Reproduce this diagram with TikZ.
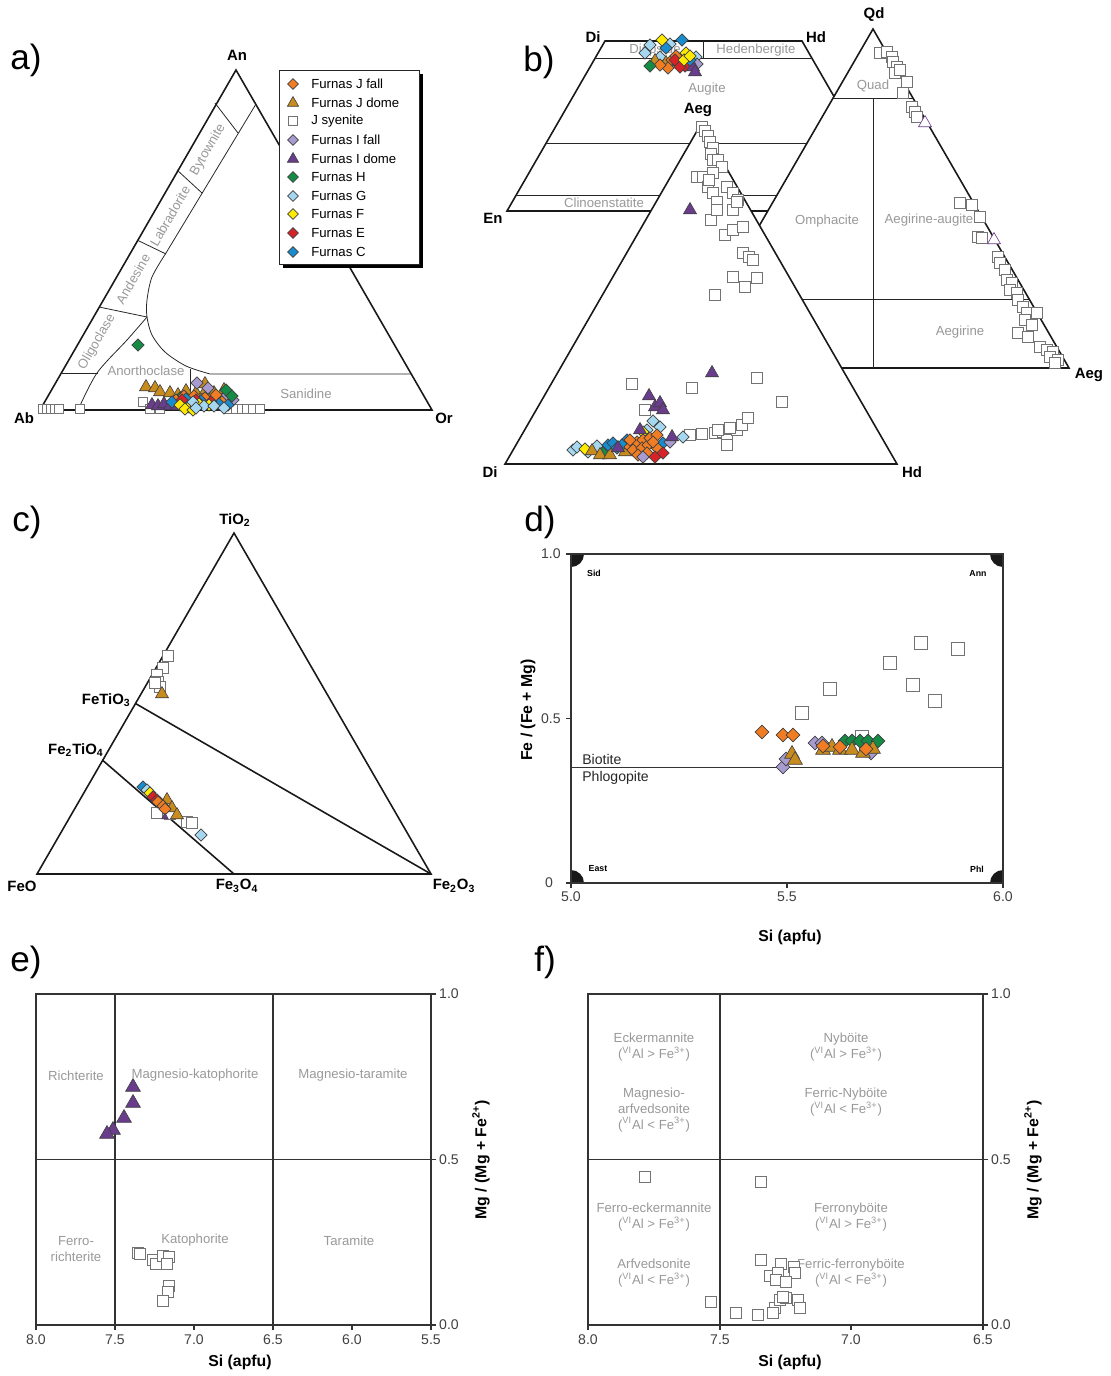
\documentclass[tikz,border=0pt]{standalone}
\usepackage{fontspec}
\setmainfont{Liberation Sans}
\usetikzlibrary{shapes.geometric}

\definecolor{jfallc}{RGB}{240,125,35}
\definecolor{jdomec}{RGB}{200,140,30}
\definecolor{ifallc}{RGB}{168,155,208}
\definecolor{idomec}{RGB}{105,60,140}
\definecolor{hc}{RGB}{20,140,70}
\definecolor{gc}{RGB}{165,215,240}
\definecolor{fc}{RGB}{255,235,0}
\definecolor{ec}{RGB}{215,35,40}
\definecolor{cc}{RGB}{25,140,205}

\begin{document}
\begin{tikzpicture}[x=0.02cm,y=-0.02cm]
\tikzstyle{every node}+=[inner sep=0pt]
\tikzstyle{outl}=[line width=0.9pt, black!90]
\tikzstyle{thinl}=[line width=0.45pt, black!85]
\tikzstyle{axl}=[line width=0.6pt, black!80]
\tikzstyle{vtx}=[font=\bfseries\fontsize{8.5}{10}\selectfont]
\tikzstyle{zone}=[text=black!40, font=\fontsize{7.5}{9}\selectfont, align=center]
\tikzstyle{lgd}=[anchor=west, font=\fontsize{7.5}{9}\selectfont]
\tikzstyle{tk}=[text=black!75, font=\fontsize{8}{9.6}\selectfont]
\tikzstyle{axt}=[font=\bfseries\fontsize{9}{11}\selectfont]
\tikzstyle{corner}=[font=\bfseries\fontsize{5}{6}\selectfont]
\tikzstyle{plab}=[font=\fontsize{20}{24}\selectfont]
\tikzstyle{mk}=[draw=black!75, line width=0.35pt]
\tikzstyle{dmd}=[mk, diamond, minimum size=0.25cm]
\tikzstyle{trg}=[mk, regular polygon, regular polygon sides=3, minimum size=0.3cm]
\tikzstyle{sqr}=[draw=black!55, fill=white, line width=0.5pt, rectangle, minimum size=0.22cm]
\tikzstyle{mJfall}=[dmd, fill=jfallc]
\tikzstyle{mJdome}=[trg, fill=jdomec]
\tikzstyle{mJsy}=[sqr]
\tikzstyle{mIfall}=[dmd, fill=ifallc]
\tikzstyle{mIdome}=[trg, fill=idomec]
\tikzstyle{mH}=[dmd, fill=hc]
\tikzstyle{mG}=[dmd, fill=gc]
\tikzstyle{mF}=[dmd, fill=fc]
\tikzstyle{mE}=[dmd, fill=ec]
\tikzstyle{mC}=[dmd, fill=cc]
\useasboundingbox (0,0) rectangle (1110,1376);

% panel letters
\node[plab] (la) at (26,60) {a)};
\node[plab] (lb) at (539,62) {b)};
\node[plab] (lc) at (27,522) {c)};
\node[plab] (ld) at (540,522) {d)};
\node[plab] (le) at (26,962) {e)};
\node[plab] (lf) at (545,962) {f)};

%% ---------- a) feldspar ----------
\coordinate (Ab) at (40,410);
\coordinate (An) at (236,70);
\coordinate (Or) at (432,410);
\draw[outl] (Ab) -- (An) -- (Or) -- cycle;
\draw[thinl] (256,104) -- (166,253);
\draw[thinl] plot[smooth] coordinates {(166,253) (152,277) (147,300) (147,317) (152,335) (165,352) (186,366) (210,374)} -- (412,374);
\draw[thinl] plot[smooth] coordinates {(147,317) (127,340) (97,373) (78,410)};
\draw[thinl] (190,369) -- (190,410);
\draw[thinl] (215,103) -- (238,133);
\draw[thinl] (177,170) -- (202,193);
\draw[thinl] (137,240) -- (166,254);
\draw[thinl] (99,307) -- (147,317);
\draw[thinl] (61,373) -- (98,373);
\node[vtx] at (237,55) {An};
\node[vtx] at (24,418) {Ab};
\node[vtx] at (444,418) {Or};
\node[zone, rotate=60] at (208,150) {Bytownite};
\node[zone, rotate=60] at (170,216) {Labradorite};
\node[zone, rotate=60] at (133,279) {Andesine};
\node[zone, rotate=60] at (97,342) {Oligoclase};
\node[zone] at (146,371) {Anorthoclase};
\node[zone] at (306,394) {Sanidine};
% data a
\foreach \p in {(43,409),(47,409),(51,409),(55,409),(59,409),(80,409),(143,402),(150,409),(160,409),(228,409),(236,409),(242,409),(247,409),(253,409),(260,409)}
  \node[mJsy, minimum size=0.18cm] at \p {};
\foreach \p in {(146,387),(155,388),(160,392),(170,393),(178,395),(186,391),(196,393),(206,390),(214,393),(224,390),(205,384)}
  \node[mJdome] at \p {};
\foreach \p in {(152,405),(158,406),(164,404),(170,406),(176,406)}
  \node[mIdome] at \p {};
\foreach \p in {(197,383),(233,400),(227,395),(208,388)}
  \node[mIfall] at \p {};
\foreach \p in {(138,345),(226,390),(232,396),(216,398),(180,398)}
  \node[mH] at \p {};
\foreach \p in {(176,400),(184,396),(194,396),(205,398),(216,395),(190,403),(222,402)}
  \node[mJfall] at \p {};
\foreach \p in {(172,402),(186,399),(201,401),(219,404),(228,405)}
  \node[mC] at \p {};
\foreach \p in {(182,400),(196,400),(211,402)}
  \node[mE] at \p {};
\foreach \p in {(180,405),(189,407),(199,404),(209,405),(185,409),(193,410)}
  \node[mF] at \p {};
\foreach \p in {(193,402),(204,406),(196,408),(214,406),(224,408)}
  \node[mG] at \p {};
% legend
\fill[black] (283,74) rectangle (423,268);
\draw[thinl, fill=white] (279,70) rectangle (419,264);
\node[mJfall, minimum size=0.22cm] at (293,84) {};
\node[lgd] at (311,84) {Furnas J fall};
\node[mJdome, minimum size=0.26cm] at (293,103) {};
\node[lgd] at (311,103) {Furnas J dome};
\node[mJsy, minimum size=0.19cm] at (293,121) {};
\node[lgd] at (311,121) {J syenite};
\node[mIfall, minimum size=0.22cm] at (293,140) {};
\node[lgd] at (311,140) {Furnas I fall};
\node[mIdome, minimum size=0.26cm] at (293,159) {};
\node[lgd] at (311,159) {Furnas I dome};
\node[mH, minimum size=0.22cm] at (293,177) {};
\node[lgd] at (311,177) {Furnas H};
\node[mG, minimum size=0.22cm] at (293,196) {};
\node[lgd] at (311,196) {Furnas G};
\node[mF, minimum size=0.22cm] at (293,214) {};
\node[lgd] at (311,214) {Furnas F};
\node[mE, minimum size=0.22cm] at (293,233) {};
\node[lgd] at (311,233) {Furnas E};
\node[mC, minimum size=0.22cm] at (293,252) {};
\node[lgd] at (311,252) {Furnas C};

%% ---------- b) pyroxene ----------
\coordinate (qDi) at (605,41);
\coordinate (qHd) at (802,41);
\coordinate (qEn) at (507,211);
\coordinate (qFs) at (900,211);
\draw[outl, fill=white] (qEn) -- (qDi) -- (qHd) -- (qFs) -- cycle;
\draw[thinl] (595,58) -- (812,58);
\draw[thinl] (703,41) -- (703,58);
\draw[thinl] (546,143) -- (861,143);
\draw[thinl] (516,195) -- (891,195);
\node[vtx] at (593,37) {Di};
\node[vtx] at (816,37) {Hd};
\node[vtx] at (493,218) {En};
\node[zone] at (655,50) {Diopside};
\node[zone] at (756,50) {Hedenbergite};
\node[zone] at (707,89) {Augite};
\node[zone] at (604,203) {Clinoenstatite};
\foreach \p in {(650,45),(645,53),(660,57),(696,57),(670,44)} \node[mG] at \p {};
\foreach \p in {(655,61),(666,63),(688,64)} \node[mJdome] at \p {};
\foreach \p in {(672,60),(678,64),(668,68),(660,65),(682,58),(676,56)} \node[mJfall] at \p {};
\foreach \p in {(650,66)} \node[mH] at \p {};
\foreach \p in {(675,60),(685,66),(680,67)} \node[mE] at \p {};
\foreach \p in {(697,64)} \node[mIfall] at \p {};
\foreach \p in {(693,67),(695,72)} \node[mIdome] at \p {};
\foreach \p in {(682,40),(666,48),(690,60)} \node[mC] at \p {};
\foreach \p in {(662,40),(686,53),(684,60),(690,56)} \node[mF] at \p {};
% Qd triangle
\coordinate (Qd) at (873,29);
\coordinate (Jd) at (677,368);
\coordinate (qAeg) at (1069,368);
\draw[outl, fill=white] (Jd) -- (Qd) -- (qAeg) -- cycle;
\draw[thinl] (833,98) -- (913,98);
\draw[thinl] (873,98) -- (873,368);
\draw[thinl] (717,299) -- (1029,299);
\node[vtx] at (874,15) {Qd};
\node[vtx] at (1089,375) {Aeg};
\node[zone] at (873,86) {Quad};
\node[zone] at (827,221) {Omphacite};
\node[zone] at (929,220) {Aegirine-augite};
\node[zone] at (960,332) {Aegirine};
\foreach \p in {(880,53),(887,52),(892,57),(893,62),(897,67),(895,73),(900,70),(907,82),(903,93),(912,107),(915,112),(917,117),(960,203),(972,205),(980,217),(978,237),(982,238),(998,257),(1000,263),(1005,270),(1007,280),(1012,283),(1010,290),(1017,293),(1018,300),(1023,307),(1027,313),(1037,313),(1025,320),(1032,325),(1018,333),(1028,337),(1040,347),(1047,350),(1053,352),(1050,357),(1058,360),(1055,363)}
  \node[mJsy] at \p {};
\foreach \p in {(925,123),(994,240)} \node[trg, fill=white, draw=idomec] at \p {};
% Di-Hd-Aeg triangle
\coordinate (Di) at (505,464);
\coordinate (Aeg) at (701,124);
\coordinate (Hd) at (897,464);
\draw[outl, fill=white] (Di) -- (Aeg) -- (Hd) -- cycle;
\node[vtx] at (698,110) {Aeg};
\node[vtx] at (490,472) {Di};
\node[vtx] at (912,472) {Hd};
\foreach \p in {(702,127),(705,131),(708,136),(710,142),(713,148),(711,154),(713,160),(718,160),(722,167),(697,177),(703,177),(713,173),(727,187),(733,193),(738,200),(708,187),(713,193),(717,202),(733,210),(709,180),(711,220),(717,210),(737,202),(725,235),(733,230),(743,227),(743,253),(749,257),(753,260),(733,277),(757,278),(745,287),(715,295),(632,384),(692,388),(757,378),(782,402),(645,410),(690,435),(702,434),(715,433),(723,432),(727,440),(737,430),(742,425),(748,418),(727,445),(718,430),(730,428)}
  \node[mJsy] at \p {};
\foreach \p in {(573,450),(577,447),(597,446),(653,421),(683,437),(660,427),(647,430),(588,452)} \node[mG] at \p {};
\foreach \p in {(585,449),(643,432)} \node[mF] at \p {};
\foreach \p in {(603,453)} \node[mH] at \p {};
\foreach \p in {(592,451),(600,455),(610,455),(625,452)} \node[mJdome] at \p {};
\foreach \p in {(608,445),(613,443),(627,440),(622,445),(663,443),(617,448)} \node[mC] at \p {};
\foreach \p in {(630,447),(637,442),(643,440),(633,450),(642,448),(648,445),(650,438),(657,435),(657,448),(647,453),(638,455),(630,440),(653,442)} \node[mJfall] at \p {};
\foreach \p in {(655,457),(663,453)} \node[mE] at \p {};
\foreach \p in {(643,457),(670,442)} \node[mIfall] at \p {};
\foreach \p in {(649,396),(655,407),(660,403),(663,410),(640,430),(618,448),(672,437),(712,373),(690,210)} \node[mIdome] at \p {};

%% ---------- c) Fe-Ti oxides ----------
\coordinate (FeO) at (37,874);
\coordinate (TiO) at (234,533);
\coordinate (Hem) at (431,874);
\coordinate (Ilm) at (135.5,703.5);
\coordinate (Usp) at (102.7,760.3);
\coordinate (Mag) at (234,874);
\draw[outl] (FeO) -- (TiO) -- (Hem) -- cycle;
\draw[outl] (Ilm) -- (Hem);
\draw[outl] (Usp) -- (Mag);
\node[vtx] at (235,520) {TiO\textsubscript{2}};
\node[vtx, anchor=east] at (131,700) {FeTiO\textsubscript{3}};
\node[vtx, anchor=east] at (104,750) {Fe\textsubscript{2}TiO\textsubscript{4}};
\node[vtx] at (22,886) {FeO};
\node[vtx] at (237,886) {Fe\textsubscript{3}O\textsubscript{4}};
\node[vtx] at (454,886) {Fe\textsubscript{2}O\textsubscript{3}};
\foreach \p in {(168,656),(163,668),(157,675),(158,682),(160,687),(155,683),(157,813),(187,822),(192,823),(170,814)}
  \node[mJsy] at \p {};
\foreach \p in {(162,694),(167,800),(172,808),(177,815)} \node[mJdome] at \p {};
\foreach \p in {(143,787)} \node[mC] at \p {};
\foreach \p in {(147,790),(201,835)} \node[mG] at \p {};
\foreach \p in {(150,793)} \node[mF] at \p {};
\foreach \p in {(153,797),(157,800)} \node[mE] at \p {};
\foreach \p in {(160,803),(158,802),(163,806),(165,809)} \node[mJfall] at \p {};
\foreach \p in {(165,817)} \node[mIdome, minimum size=0.15cm] at \p {};

%% ---------- d) biotite ----------
\begin{scope}
\clip (571,554) rectangle (1003,883);
\fill[black!90] (571,554) circle[radius=0.26cm];
\fill[black!90] (1003,554) circle[radius=0.26cm];
\fill[black!90] (571,883) circle[radius=0.26cm];
\fill[black!90] (1003,883) circle[radius=0.26cm];
\end{scope}
\draw[axl] (571,554) rectangle (1003,883);
\draw[axl] (571,767.8) -- (1003,767.8);
\foreach \yy in {554,718.5,883} \draw[axl] (566,\yy) -- (571,\yy);
\foreach \xx in {571,787,1003} \draw[axl] (\xx,883) -- (\xx,888);
\node[tk, anchor=east] at (561,554) {1.0};
\node[tk, anchor=east] at (561,718.5) {0.5};
\node[tk] at (549,883) {0};
\node[tk] at (571,897) {5.0};
\node[tk] at (787,897) {5.5};
\node[tk] at (1003,897) {6.0};
\node[axt] at (790,937) {Si (apfu)};
\node[axt, rotate=90] at (528,710) {Fe / (Fe + Mg)};
\node[corner] at (594,573) {Sid};
\node[corner] at (978,573) {Ann};
\node[corner] at (598,869) {East};
\node[corner] at (977,869) {Phl};
\node[tk, anchor=west, text=black!85] at (582,759) {Biotite};
\node[tk, anchor=west, text=black!85] at (582,778) {Phlogopite};
\foreach \p in {(921,643),(958,649),(890,663),(830,689),(913,685),(935,701),(802,713),(862,737)}
  \node[mJsy, minimum size=0.27cm] at \p {};
\foreach \p in {(845,741),(852,741),(860,741),(868,741),(878,741)} \node[mH, minimum size=0.28cm] at \p {};
\foreach \p in {(815,743),(822,743),(783,767),(786,759),(871,753)} \node[mIfall, minimum size=0.28cm] at \p {};
\foreach \p in {(792,754),(795,760),(823,750),(832,747),(840,750),(852,750),(863,753),(873,749)} \node[mJdome, minimum size=0.34cm] at \p {};
\foreach \p in {(762,732),(783,735),(793,735),(823,746),(840,747),(866,749)} \node[mJfall, minimum size=0.28cm] at \p {};

%% ---------- e) amphibole ----------
\draw[axl] (36,994) rectangle (431,1325);
\draw[axl] (115,994) -- (115,1325);
\draw[axl] (273,994) -- (273,1325);
\draw[axl] (36,1159.5) -- (431,1159.5);
\foreach \xx/\v in {36/8.0,115/7.5,194/7.0,273/6.5,352/6.0,431/5.5} {
  \draw[axl] (\xx,1325) -- (\xx,1330);
  \node[tk] at (\xx,1340) {\v};
}
\foreach \yy/\v in {994/1.0,1159.5/0.5,1325/0.0} {
  \draw[axl] (431,\yy) -- (436,\yy);
  \node[tk] at (449,\yy) {\v};
}
\node[axt] at (240,1362) {Si (apfu)};
\node[axt, rotate=90] at (481,1160) {Mg / (Mg + Fe\textsuperscript{2+})};
\node[zone] at (76,1076) {Richterite};
\node[zone] at (195,1075) {Magnesio-katophorite};
\node[zone] at (353,1075) {Magnesio-taramite};
\node[zone] at (76,1249) {Ferro-\\richterite};
\node[zone] at (195,1240) {Katophorite};
\node[zone] at (349,1241) {Taramite};
\foreach \p in {(138,1253),(140,1254),(153,1260),(156,1264),(163,1256),(169,1257),(167,1264),(169,1286),(168,1292),(163,1301)}
  \node[mJsy] at \p {};
\foreach \p in {(133,1087),(133,1103),(124,1118),(113,1130),(107,1134)} \node[mIdome, minimum size=0.34cm] at \p {};

%% ---------- f) amphibole ----------
\draw[axl] (588,994) rectangle (983,1325);
\draw[axl] (720,994) -- (720,1325);
\draw[axl] (588,1159.5) -- (983,1159.5);
\foreach \xx/\v in {588/8.0,720/7.5,851/7.0,983/6.5} {
  \draw[axl] (\xx,1325) -- (\xx,1330);
  \node[tk] at (\xx,1340) {\v};
}
\foreach \yy/\v in {994/1.0,1159.5/0.5,1325/0.0} {
  \draw[axl] (983,\yy) -- (988,\yy);
  \node[tk] at (1001,\yy) {\v};
}
\node[axt] at (790,1362) {Si (apfu)};
\node[axt, rotate=90] at (1033,1160) {Mg / (Mg + Fe\textsuperscript{2+})};
\node[zone] at (654,1047) {Eckermannite\\(\textsuperscript{VI}Al > Fe\textsuperscript{3+})};
\node[zone] at (654,1110) {Magnesio-\\arfvedsonite\\(\textsuperscript{VI}Al < Fe\textsuperscript{3+})};
\node[zone] at (846,1047) {Nyböite\\(\textsuperscript{VI}Al > Fe\textsuperscript{3+})};
\node[zone] at (846,1102) {Ferric-Nyböite\\(\textsuperscript{VI}Al < Fe\textsuperscript{3+})};
\node[zone] at (654,1217) {Ferro-eckermannite\\(\textsuperscript{VI}Al > Fe\textsuperscript{3+})};
\node[zone] at (851,1217) {Ferronyböite\\(\textsuperscript{VI}Al > Fe\textsuperscript{3+})};
\node[zone] at (654,1273) {Arfvedsonite\\(\textsuperscript{VI}Al < Fe\textsuperscript{3+})};
\node[zone] at (851,1273) {Ferric-ferronyböite\\(\textsuperscript{VI}Al < Fe\textsuperscript{3+})};
\foreach \p in {(645,1177),(761,1182),(761,1260),(781,1264),(794,1267),(795,1273),(770,1276),(778,1273),(776,1280),(786,1282),(711,1302),(736,1313),(758,1315),(775,1308),(780,1300),(786,1298),(798,1300),(800,1308),(773,1313),(783,1297)}
  \node[mJsy] at \p {};
\end{tikzpicture}
\end{document}
